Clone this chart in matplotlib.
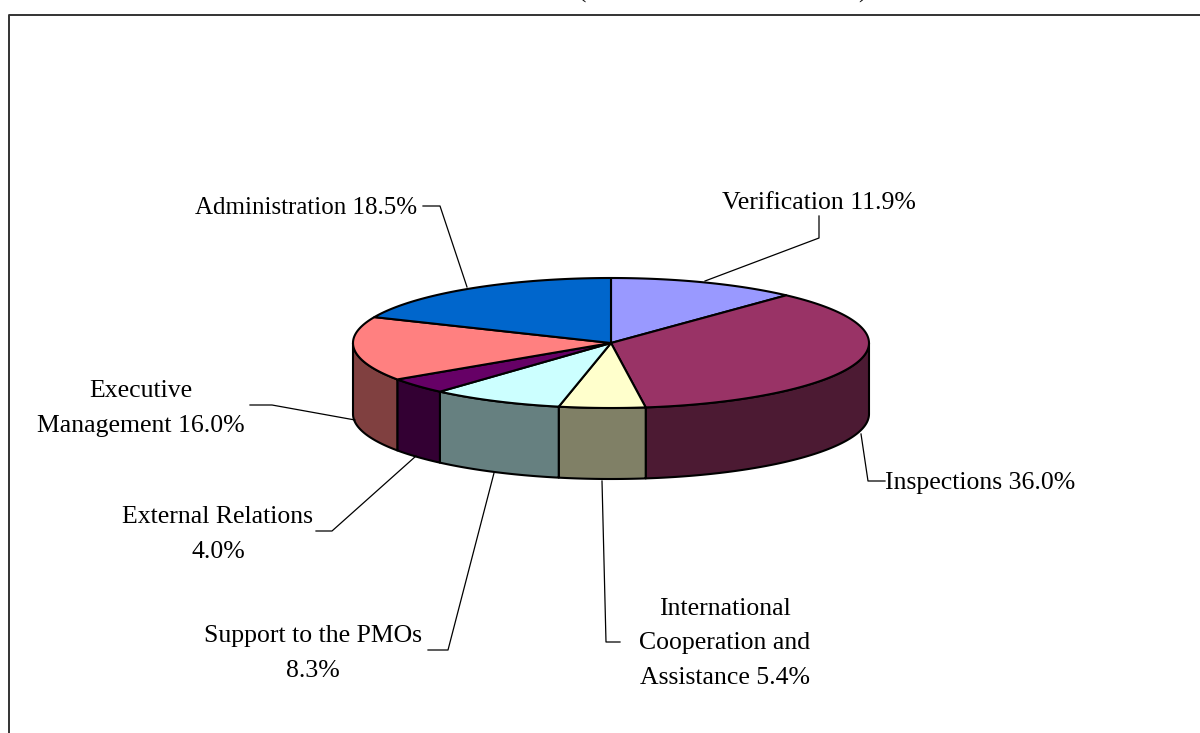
import numpy as np
import matplotlib
matplotlib.use('Agg')
import matplotlib.pyplot as plt
from matplotlib.patches import Polygon

# clockwise from 12 o'clock
names = ['Verification', 'Inspections', 'International Cooperation', 'Support to the PMOs',
         'External Relations', 'Executive Management', 'Administration']
shares = [11.9, 36.0, 5.4, 8.3, 4.0, 16.0, 18.5]
top_colors = ['#9999FF', '#993366', '#FFFFCC', '#CCFFFF', '#660066', '#FF8080', '#0066CC']
side_colors = ['#4C4C80', '#4C1A33', '#808066', '#668080', '#330033', '#804040', '#003366']
labels = ['Verification 11.9%', 'Inspections 36.0%', 'International\nCooperation and\nAssistance 5.4%',
          'Support to the PMOs\n8.3%', 'External Relations\n4.0%', 'Executive\nManagement 16.0%',
          'Administration 18.5%']

# layout in image pixels
cx, cy, rx, ry, depth = 611, 343, 258, 65, 71
label_pos = [(819, 203), (980, 483), (725, 643.5), (313, 653.5), (218, 534.5), (141, 408.5), (306, 208)]
label_size = [18.5, 18.5, 18.5, 18.5, 18.5, 18.5, 18]
leaders = [[(705, 281), (819, 238), (819, 216)],
           [(861, 434), (868, 481), (885, 481)],
           [(602, 481), (606, 642), (620, 642)],
           [(494, 473), (448, 650), (428, 650)],
           [(416, 456), (332, 531), (316, 531)],
           [(355, 420), (272, 405), (250, 405)],
           [(467, 287), (440, 206), (423, 206)]]

fig = plt.figure(figsize=(12, 7.33), dpi=100)
ax = fig.add_axes([0, 0, 1, 1])
ax.set_xlim(0, 1200)
ax.set_ylim(733, 0)
ax.axis('off')
plt.rcParams['font.family'] = ['Liberation Serif']


def rim(a, b, n=120):
    t = np.radians(np.linspace(a, b, n))
    return np.column_stack([cx + rx * np.sin(t), cy - ry * np.cos(t)])


edges = np.concatenate([[0], np.cumsum(shares)]) / sum(shares) * 360

# outer frame, only its left and top sides are inside the image
ax.plot([9, 9, 1200], [733, 15, 15], color='#333333', lw=1.4)
# the title is cut off by the top of the image, only its brackets show
ax.text(582, 3, '(', ha='center', va='bottom', fontsize=18, color='#111111')
ax.text(862, 3, ')', ha='center', va='bottom', fontsize=18, color='#111111')

# side wall, only the front half of the rim shows
for i in range(len(shares)):
    a = max(edges[i], 90)
    b = min(edges[i + 1], 270)
    if a >= b:
        continue
    front = rim(a, b)
    wall = np.vstack([front, front[::-1] + [0, depth]])
    ax.add_patch(Polygon(wall, closed=True, fc=side_colors[i], ec='black', lw=1.5, joinstyle='round'))

# top face
for i in range(len(shares)):
    face = np.vstack([[cx, cy], rim(edges[i], edges[i + 1])])
    ax.add_patch(Polygon(face, closed=True, fc=top_colors[i], ec='black', lw=1.5, joinstyle='round'))

for line in leaders:
    xs, ys = zip(*line)
    ax.plot(xs, ys, color='black', lw=0.9)

for text, (x, y), size in zip(labels, label_pos, label_size):
    ax.text(x, y, text, ha='center', va='center', fontsize=size, color='black', linespacing=1.72,
            family='Liberation Serif')

fig.savefig('out.png', dpi=100)
